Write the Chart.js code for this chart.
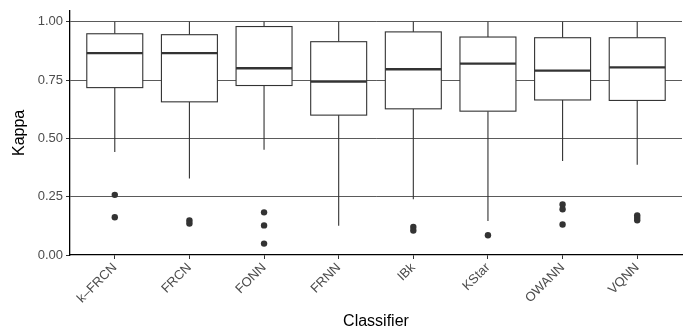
<!DOCTYPE html>
<html><head><meta charset="utf-8">
<script src="https://cdn.jsdelivr.net/npm/chart.js@4.4.0/dist/chart.umd.min.js"></script>
<style>html,body{margin:0;padding:0;background:#fff}canvas{display:block}</style>
</head><body>
<canvas id="c" width="689" height="333"></canvas>
<script>
const categories = ["k\u2013FRCN","FRCN","FONN","FRNN","IBk","KStar","OWANN","VQNN"];
const whiskerLow  = [0.442,0.328,0.452,0.125,0.239,0.146,0.403,0.387];
const q1          = [0.718,0.657,0.727,0.600,0.627,0.617,0.665,0.663];
const median      = [0.866,0.866,0.801,0.744,0.797,0.821,0.791,0.805];
const q3          = [0.949,0.945,0.980,0.915,0.957,0.935,0.932,0.932];
const whiskerHigh = [1.000,1.000,1.000,1.000,1.000,1.000,1.000,1.000];
const outliers    = [[0.258,0.162],[0.148,0.135],[0.183,0.127,0.049],[],[0.120,0.105],[0.085],[0.217,0.196,0.131],[0.170,0.160,0.149]];
const yTicks = [0,0.25,0.5,0.75,1.0];

const outlierPoints = [];
outliers.forEach((arr,i)=>arr.forEach(v=>outlierPoints.push({x:i+1,y:v})));

const boxPlugin = {
  id:'boxes',
  beforeDatasetsDraw(chart){
    const ctx = chart.ctx, xs = chart.scales.x, ys = chart.scales.y;
    const halfW = 0.375;
    ctx.save();
    ctx.strokeStyle = '#333333';
    categories.forEach((c,i)=>{
      const cx = xs.getPixelForValue(i+1);
      const l = xs.getPixelForValue(i+1-halfW), r = xs.getPixelForValue(i+1+halfW);
      const yl = ys.getPixelForValue(whiskerLow[i]), y1 = ys.getPixelForValue(q1[i]);
      const ym = ys.getPixelForValue(median[i]), y3 = ys.getPixelForValue(q3[i]);
      const yh = ys.getPixelForValue(whiskerHigh[i]);
      ctx.lineWidth = 1.1;
      ctx.beginPath();
      ctx.moveTo(cx,yl); ctx.lineTo(cx,y1);
      ctx.moveTo(cx,y3); ctx.lineTo(cx,yh);
      ctx.stroke();
      ctx.fillStyle = '#ffffff';
      ctx.fillRect(l,y3,r-l,y1-y3);
      ctx.strokeRect(l,y3,r-l,y1-y3);
      ctx.lineWidth = 2.4;
      ctx.beginPath();
      ctx.moveTo(l,ym); ctx.lineTo(r,ym);
      ctx.stroke();
    });
    ctx.restore();
  }
};

new Chart(document.getElementById('c'),{
  type:'scatter',
  data:{datasets:[{
    data:outlierPoints,
    backgroundColor:'#333333',
    borderColor:'#333333',
    pointRadius:3.2,
    borderWidth:0
  }]},
  options:{
    responsive:false,
    animation:false,
    devicePixelRatio:1,
    layout:{padding:{top:7,right:7,left:0,bottom:0}},
    plugins:{legend:{display:false},tooltip:{enabled:false}},
    scales:{
      x:{
        type:'linear',min:0.4,max:8.6,
        afterBuildTicks(s){s.ticks=categories.map((c,i)=>({value:i+1}));},
        afterFit(s){s.height=78;},
        ticks:{
          callback:(v)=>categories[v-1]??'',
          minRotation:45,maxRotation:45,autoSkip:false,
          color:'#4d4d4d',font:{family:'Liberation Sans, Arial',size:13},padding:1
        },
        grid:{drawOnChartArea:false,drawTicks:true,tickLength:4,color:'#333333',tickColor:'#333333',lineWidth:1},
        border:{display:true,color:'#000000',width:1.3},
        title:{display:true,text:'Classifier',color:'#000000',font:{family:'Liberation Sans, Arial',size:16},padding:{top:0,bottom:2}}
      },
      y:{
        min:0,max:1.0475,
        afterBuildTicks(s){s.ticks=yTicks.map(v=>({value:v}));},
        afterFit(s){s.width=70;},
        ticks:{
          callback:(v)=>v.toFixed(2),
          color:'#4d4d4d',font:{family:'Liberation Sans, Arial',size:13},padding:3
        },
        grid:{
          color:(c)=>c.tick && c.tick.value===0 ? 'rgba(0,0,0,0)' : '#5a5a5a',
          tickColor:'#333333',lineWidth:1,tickLength:4,drawTicks:true
        },
        border:{display:true,color:'#000000',width:1.3},
        title:{display:true,text:'Kappa',color:'#000000',font:{family:'Liberation Sans, Arial',size:16},padding:{top:10,bottom:0}}
      }
    }
  },
  plugins:[boxPlugin]
});
</script>
</body></html>
